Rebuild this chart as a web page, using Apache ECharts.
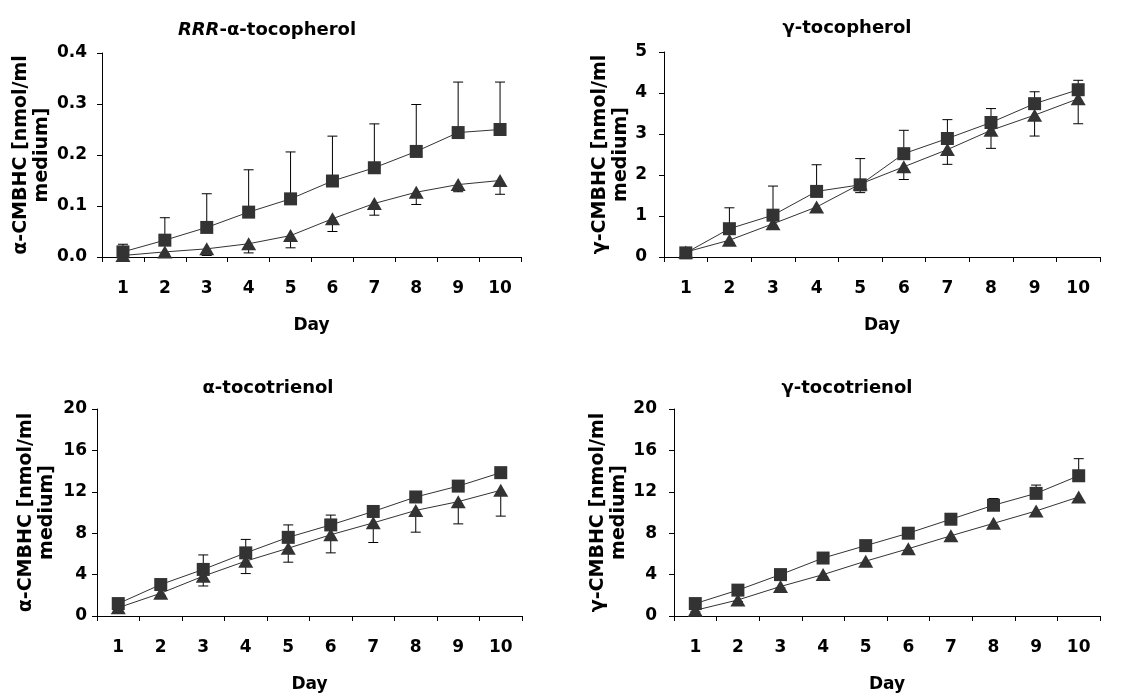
<!DOCTYPE html>
<html>
<head>
<meta charset="utf-8">
<script src="https://cdn.jsdelivr.net/npm/echarts@6/dist/echarts.min.js"></script>
<style>
  html, body { margin: 0; padding: 0; background: #fff; }
  #chart { width: 1141px; height: 695px; }
</style>
</head>
<body>
<div id="chart"></div>
<script>
var days = ['1', '2', '3', '4', '5', '6', '7', '8', '9', '10'];

// RRR-alpha-tocopherol
var aTocSq = [0.010, 0.033, 0.058, 0.088, 0.114, 0.149, 0.175, 0.207, 0.244, 0.250];
var aTocSqErr = [0.025, 0.077, 0.124, 0.171, 0.206, 0.237, 0.261, 0.299, 0.343, 0.343];
var aTocTri = [0.003, 0.010, 0.016, 0.026, 0.042, 0.075, 0.105, 0.127, 0.142, 0.150];
var aTocTriErr = [0.000, 0.006, 0.003, 0.008, 0.018, 0.050, 0.082, 0.103, 0.128, 0.123];

// gamma-tocopherol
var gTocSq = [0.10, 0.69, 1.02, 1.60, 1.76, 2.52, 2.89, 3.28, 3.74, 4.08];
var gTocSqErr = [0.15, 1.20, 1.73, 2.25, 2.40, 3.09, 3.35, 3.62, 4.03, 4.31];
var gTocTri = [0.12, 0.41, 0.81, 1.22, 1.78, 2.20, 2.62, 3.09, 3.46, 3.86];
var gTocTriErr = [0.10, 0.35, 0.75, 1.15, 1.57, 1.89, 2.26, 2.65, 2.95, 3.25];

// alpha-tocotrienol
var aT3Sq = [1.2, 3.04, 4.5, 6.1, 7.6, 8.8, 10.1, 11.5, 12.55, 13.85];
var aT3SqErr = [1.4, 3.5, 5.9, 7.4, 8.8, 9.75, 10.6, 11.7, 12.8, 14.2];
var aT3Tri = [0.8, 2.2, 3.85, 5.3, 6.55, 7.85, 9.0, 10.2, 11.05, 12.15];
var aT3TriErr = [0.6, 2.0, 2.9, 4.1, 5.2, 6.1, 7.1, 8.1, 8.9, 9.65];

// gamma-tocotrienol
var gT3Sq = [1.2, 2.5, 4.0, 5.6, 6.8, 8.0, 9.35, 10.7, 11.85, 13.55];
var gT3SqErr = [1.4, 2.7, 4.3, 5.9, 7.0, 8.2, 9.6, 11.35, 12.65, 15.2];
var gT3Tri = [0.55, 1.55, 2.85, 4.0, 5.3, 6.5, 7.75, 8.95, 10.15, 11.5];
var gT3TriErr = [0.4, 1.4, 2.7, 3.8, 5.1, 6.3, 7.5, 8.7, 9.9, 11.2];

var font = '"DejaVu Sans", "Liberation Sans", Arial, sans-serif';
var ink = '#000';
var markColor = '#333';

// vertical error bar from mean to end, cap at the end
function errorBar(params, api) {
  var x = api.value(0);
  var p0 = api.coord([x, api.value(1)]);
  var p1 = api.coord([x, api.value(2)]);
  var w = 5;
  return {
    type: 'group',
    children: [
      { type: 'line', shape: { x1: p0[0], y1: p0[1], x2: p1[0], y2: p1[1] }, style: { stroke: ink, lineWidth: 1 } },
      { type: 'line', shape: { x1: p1[0] - w, y1: p1[1], x2: p1[0] + w, y2: p1[1] }, style: { stroke: ink, lineWidth: 1 } }
    ]
  };
}

function errData(mean, end) {
  return mean.map(function (m, i) { return [i, m, end[i]]; });
}

var grids = [
  { left: 102, top: 53, width: 419, height: 204 },
  { left: 664, top: 52, width: 436, height: 205 },
  { left: 97, top: 409, width: 425, height: 207 },
  { left: 674, top: 409, width: 426, height: 207 }
];

var yCfg = [
  { max: 0.4, interval: 0.1, dec: 1, name: 'α-CMBHC [nmol/ml\nmedium]', margin: 15, gap: 44 },
  { max: 5, interval: 1, dec: 0, name: 'γ-CMBHC [nmol/ml\nmedium]', margin: 17, gap: 28 },
  { max: 20, interval: 4, dec: 0, name: 'α-CMBHC [nmol/ml\nmedium]', margin: 10, gap: 39 },
  { max: 20, interval: 4, dec: 0, name: 'γ-CMBHC [nmol/ml\nmedium]', margin: 17, gap: 38 }
];

var panels = [
  [aTocSq, aTocSqErr, aTocTri, aTocTriErr],
  [gTocSq, gTocSqErr, gTocTri, gTocTriErr],
  [aT3Sq, aT3SqErr, aT3Tri, aT3TriErr],
  [gT3Sq, gT3SqErr, gT3Tri, gT3TriErr]
];

var axisLine = { show: true, lineStyle: { color: ink, width: 1 } };

var xAxes = grids.map(function (g, i) {
  return {
    type: 'category', gridIndex: i, data: days, boundaryGap: true,
    axisLine: axisLine,
    axisTick: { show: true, inside: false, length: 5, interval: 0, lineStyle: { color: ink } },
    axisLabel: { color: ink, fontFamily: font, fontWeight: 'bold', fontSize: 17, margin: 23, interval: 0 },
    splitLine: { show: false },
    name: 'Day', nameLocation: 'middle', nameGap: 60,
    nameTextStyle: { color: ink, fontFamily: font, fontWeight: 'bold', fontSize: 17 }
  };
});

var yAxes = yCfg.map(function (c, i) {
  return {
    type: 'value', gridIndex: i, min: 0, max: c.max, interval: c.interval,
    axisLine: axisLine,
    axisTick: { show: true, inside: false, length: 5, lineStyle: { color: ink } },
    axisLabel: {
      color: ink, fontFamily: font, fontWeight: 'bold', fontSize: 17, margin: c.margin,
      formatter: function (v) { return v.toFixed(c.dec); }
    },
    splitLine: { show: false },
    name: c.name, nameLocation: 'middle', nameGap: c.gap, nameRotate: 90,
    nameTextStyle: { color: ink, fontFamily: font, fontWeight: 'bold', fontSize: 19, lineHeight: 21, align: 'center' }
  };
});

var series = [];
panels.forEach(function (p, i) {
  series.push({
    type: 'custom', xAxisIndex: i, yAxisIndex: i, renderItem: errorBar,
    data: errData(p[0], p[1]), z: 1, silent: true
  });
  series.push({
    type: 'custom', xAxisIndex: i, yAxisIndex: i, renderItem: errorBar,
    data: errData(p[2], p[3]), z: 1, silent: true
  });
  series.push({
    type: 'line', xAxisIndex: i, yAxisIndex: i, data: p[0], z: 3,
    symbol: 'rect', symbolSize: 13, showAllSymbol: true,
    lineStyle: { color: markColor, width: 1 },
    itemStyle: { color: markColor, borderWidth: 0 }
  });
  series.push({
    type: 'line', xAxisIndex: i, yAxisIndex: i, data: p[2], z: 3,
    symbol: 'triangle', symbolSize: [15, 13], showAllSymbol: true,
    lineStyle: { color: markColor, width: 1 },
    itemStyle: { color: markColor, borderWidth: 0 }
  });
});

var titleStyle = { color: ink, fontFamily: font, fontWeight: 'bold', fontSize: 18 };

var chart = echarts.init(document.getElementById('chart'), null, { renderer: 'canvas' });
chart.setOption({
  backgroundColor: '#fff',
  animation: false,
  title: [
    {
      text: '{i|RRR}-α-tocopherol', left: 262, top: 16, textAlign: 'center',
      textStyle: {
        color: ink, fontFamily: font, fontWeight: 'bold', fontSize: 18,
        rich: { i: { color: ink, fontFamily: font, fontWeight: 'bold', fontStyle: 'italic', fontSize: 18 } }
      }
    },
    { text: 'γ-tocopherol', left: 842, top: 14, textAlign: 'center', textStyle: titleStyle },
    { text: 'α-tocotrienol', left: 263, top: 374, textAlign: 'center', textStyle: titleStyle },
    { text: 'γ-tocotrienol', left: 842, top: 374, textAlign: 'center', textStyle: titleStyle }
  ],
  grid: grids,
  xAxis: xAxes,
  yAxis: yAxes,
  series: series
});
</script>
</body>
</html>
